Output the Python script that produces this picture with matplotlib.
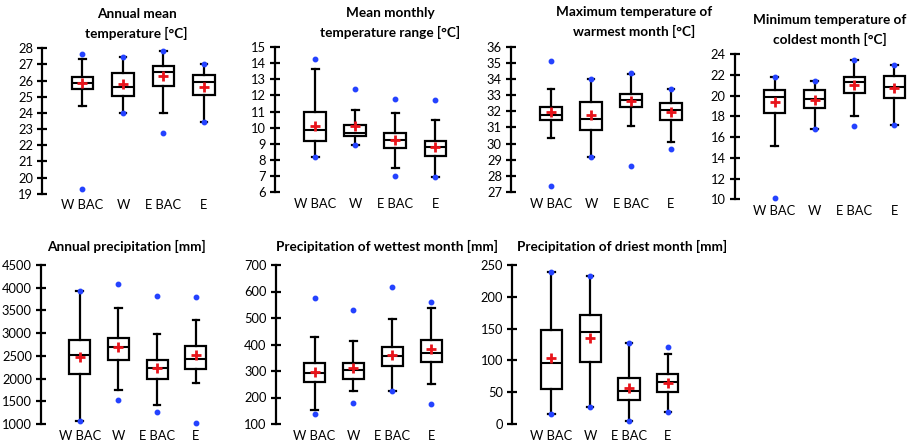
import matplotlib
matplotlib.use("Agg")
import matplotlib.pyplot as plt
from matplotlib.ticker import MultipleLocator

plt.rcParams['font.family'] = ['Lato', 'DejaVu Sans']

groups = ["W BAC", "W", "E BAC", "E"]

titles = [
    "Annual mean\ntemperature [°C]",
    "Mean monthly\ntemperature range [°C]",
    "Maximum temperature of\nwarmest month [°C]",
    "Minimum temperature of\ncoldest month [°C]",
    "Annual precipitation [mm]",
    "Precipitation of wettest month [mm]",
    "Precipitation of driest month [mm]",
]

# per panel, per group: whisker low, Q1, median, Q3, whisker high
whis_lo = [
    [24.43, 24.0, 24.0, 23.45],
    [8.21, 8.93, 7.49, 6.97],
    [30.36, 29.16, 31.08, 30.07],
    [15.14, 16.74, 18.03, 17.13],
    [1074, 1749, 1411, 1910],
    [154, 226, 225, 251],
    [15.7, 26.7, 4.7, 19.4],
]
q1 = [
    [25.48, 25.02, 25.65, 25.09],
    [9.18, 9.47, 8.77, 8.27],
    [31.48, 30.83, 32.28, 31.48],
    [18.35, 18.79, 20.27, 19.73],
    [2108, 2402, 1998, 2218],
    [260, 270, 319, 333],
    [55, 98, 38, 50],
]
median = [
    [25.87, 25.62, 26.55, 25.93],
    [9.86, 9.69, 9.24, 8.79],
    [31.78, 31.52, 32.70, 32.07],
    [19.89, 19.66, 21.30, 20.79],
    [2519, 2695, 2233, 2424],
    [294, 304, 356, 369],
    [95.4, 144, 52, 65.5],
]
q3 = [
    [26.24, 26.49, 26.90, 26.35],
    [10.99, 10.17, 9.67, 9.18],
    [32.28, 32.55, 33.10, 32.49],
    [20.56, 20.50, 21.82, 21.88],
    [2849, 2886, 2417, 2710],
    [331, 329, 392, 417],
    [148, 171, 73, 79],
]
whis_hi = [
    [27.34, 27.48, 27.83, 27.03],
    [13.64, 11.12, 10.91, 10.48],
    [33.38, 33.98, 34.29, 33.38],
    [21.75, 21.40, 23.39, 22.91],
    [3928, 3561, 2989, 3290],
    [430, 414, 495, 538],
    [239, 233, 128, 110.6],
]
means = [
    [25.83, 25.80, 26.29, 25.62],
    [10.11, 10.13, 9.26, 8.83],
    [31.93, 31.74, 32.64, 31.95],
    [19.38, 19.57, 21.01, 20.69],
    [2482, 2695, 2240, 2519],
    [296, 311, 361, 383],
    [104, 135, 56.6, 65],
]
minima = [
    [19.30, 24.0, 22.75, 23.45],
    [8.21, 8.93, 6.99, 6.97],
    [27.38, 29.16, 28.58, 29.67],
    [10.13, 16.74, 17.03, 17.13],
    [1074, 1521, 1257, 1022],
    [139, 179, 225, 177],
    [15.7, 26.7, 4.7, 19.4],
]
maxima = [
    [27.65, 27.48, 27.83, 27.03],
    [14.26, 12.40, 11.78, 11.72],
    [35.11, 33.98, 34.39, 33.38],
    [21.82, 21.40, 23.39, 22.91],
    [3928, 4089, 3818, 3789],
    [577, 531, 617, 561],
    [239, 233, 128, 121.6],
]
y_limits = [(19, 28), (6, 15), (27, 36), (10, 24), (1000, 4500), (100, 700), (0, 250)]
y_steps = [1, 1, 1, 2, 500, 100, 50]

W, H = 912, 448
# axes rectangles in pixels: left, top, bottom, px per category
rects = [
    (42, 48.3, 193.7, 40.5),
    (275, 47, 192.3, 40.1),
    (511, 46.7, 192, 40.0),
    (734.7, 54, 199.3, 39.9),
    (41, 265, 424, 38.7),
    (275.7, 265, 424, 38.9),
    (512.3, 265, 424, 38.9),
]
# title centers (x px, first line center y px)
title_pos = [
    (136.5, 15), (390, 14), (634, 13), (829.5, 21),
    (126.7, 246), (387, 246), (622, 246),
]

fig = plt.figure(figsize=(W / 100, H / 100), dpi=100)

for i in range(7):
    left, top, bottom, sp = rects[i]
    width = 4.5 * sp
    ax = fig.add_axes([left / W, 1 - bottom / H, width / W, (bottom - top) / H])
    stats = []
    for g in range(4):
        stats.append(dict(
            label=groups[g], whislo=whis_lo[i][g], q1=q1[i][g], med=median[i][g],
            q3=q3[i][g], whishi=whis_hi[i][g], mean=means[i][g],
            fliers=[minima[i][g], maxima[i][g]],
        ))
    bp = ax.bxp(
        stats, positions=[1, 2, 3, 4], widths=0.54, capwidths=0.17,
        showmeans=True, showfliers=True, patch_artist=True,
        boxprops=dict(facecolor='white', edgecolor='black', linewidth=1.6),
        medianprops=dict(color='black', linewidth=1.5),
        whiskerprops=dict(color='black', linewidth=1.6),
        capprops=dict(color='black', linewidth=1.6),
        meanprops=dict(marker='+', markeredgecolor='#e8141b', markersize=7,
                       markeredgewidth=2, linestyle='none'),
        flierprops=dict(marker='o', markerfacecolor='#2442ff', markeredgecolor='#2442ff',
                        markersize=3.2, linestyle='none'),
    )
    for art in bp['fliers']:
        art.set_clip_on(False)
    for art in bp['means']:
        art.set_zorder(5)
    ax.set_xlim(0, 4.5)
    ax.set_ylim(*y_limits[i])
    ax.yaxis.set_major_locator(MultipleLocator(y_steps[i]))
    for s in ['top', 'right', 'bottom']:
        ax.spines[s].set_visible(False)
    ax.spines['left'].set_linewidth(1.6)
    ax.tick_params(axis='y', direction='inout', length=7, width=1.6, labelsize=9.3,
                   pad=3, colors='black')
    ax.tick_params(axis='x', length=0, labelsize=9.3, pad=4)
    ax.set_xticks([1, 2, 3, 4])
    ax.set_xticklabels(groups)
    ax.patch.set_visible(False)
    tx, ty = title_pos[i]
    if '\n' in titles[i]:
        fig.text(tx / W, 1 - (ty - 7) / H, titles[i], ha='center', va='top',
                 fontsize=9.8, fontweight='bold', linespacing=1.6)
    else:
        fig.text(tx / W, 1 - ty / H, titles[i], ha='center', va='center',
                 fontsize=9.8, fontweight='bold')

fig.savefig("out.png", dpi=100)
